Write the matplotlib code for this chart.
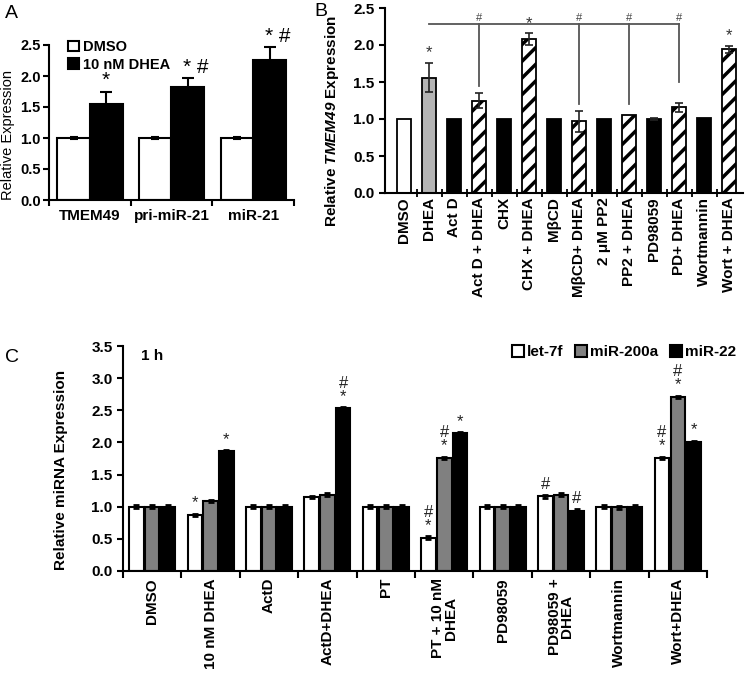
import matplotlib
matplotlib.use('Agg')
import matplotlib.pyplot as plt
import numpy as np

plt.rcParams['font.family'] = ['Liberation Sans', 'DejaVu Sans']
plt.rcParams['mathtext.fontset'] = 'custom'
plt.rcParams['mathtext.bfit'] = 'Liberation Sans:italic:bold'
plt.rcParams['mathtext.bf'] = 'Liberation Sans:bold'
plt.rcParams['mathtext.rm'] = 'Liberation Sans'
plt.rcParams['hatch.linewidth'] = 2.5

# ---------------- Panel A data ----------------
a_cats = ['TMEM49', 'pri-miR-21', 'miR-21']
a_dmso = [1.0, 1.0, 1.0]
a_dmso_err = [0.02, 0.02, 0.02]
a_dhea = [1.55, 1.83, 2.26]
a_dhea_err = [0.2, 0.13, 0.2]
a_marks = ['*', '* #', '* #']

# ---------------- Panel B data ----------------
b_cats = ['DMSO', 'DHEA', 'Act D', 'Act D + DHEA', 'CHX', 'CHX + DHEA', 'MβCD',
          'MβCD+ DHEA', '2 μM PP2', 'PP2 + DHEA', 'PD98059', 'PD+ DHEA',
          'Wortmannin', 'Wort + DHEA']
b_vals = [1.0, 1.56, 1.0, 1.25, 1.0, 2.08, 1.0, 0.97, 1.0, 1.06, 1.0, 1.16, 1.01, 1.94]
b_err = [0.0, 0.2, 0.0, 0.1, 0.0, 0.08, 0.0, 0.14, 0.0, 0.0, 0.02, 0.06, 0.0, 0.05]
b_style = ['white', 'gray', 'black', 'hatch', 'black', 'hatch', 'black', 'hatch',
           'black', 'hatch', 'black', 'hatch', 'black', 'hatch']
b_star = [1, 5, 13]
b_hash_targets = [3, 7, 9, 11]
b_hash_drop = [1.45, 1.2, 1.2, 1.5]

# ---------------- Panel C data ----------------
c_cats = ['DMSO', '10 nM DHEA', 'ActD', 'ActD+DHEA', 'PT', 'PT + 10 nM\nDHEA',
          'PD98059', 'PD98059 +\nDHEA', 'Wortmannin', 'Wort+DHEA']
c_series = ['let-7f', 'miR-200a', 'miR-22']
c_let7f = [1.0, 0.87, 1.0, 1.15, 1.0, 0.52, 1.0, 1.16, 1.0, 1.76]
c_mir200a = [1.0, 1.09, 1.0, 1.19, 1.0, 1.76, 1.0, 1.19, 0.99, 2.71]
c_mir22 = [1.0, 1.86, 1.0, 2.53, 1.0, 2.14, 1.0, 0.94, 1.0, 2.01]
c_err = 0.02
# annotations: (group, series index, text)
c_marks = [(1, 0, '*'), (1, 2, '*'), (3, 2, '#\n*'), (5, 0, '#\n*'), (5, 1, '#\n*'),
           (5, 2, '*'), (7, 0, '#'), (7, 2, '#'), (9, 0, '#\n*'), (9, 1, '#\n*'), (9, 2, '*')]

W, H = 745, 675
fig = plt.figure(figsize=(W / 100, H / 100), dpi=100)


def ax_px(l, t, r, b):
    return fig.add_axes([l / W, 1 - b / H, (r - l) / W, (b - t) / H])


def style_axes(ax):
    for s in ['top', 'right']:
        ax.spines[s].set_visible(False)
    for s in ['left', 'bottom']:
        ax.spines[s].set_linewidth(1.5)
    ax.tick_params(axis='y', direction='out', width=1.5, length=4)


# ================= Panel A =================
axA = ax_px(49, 45, 294, 200)
style_axes(axA)
xA = np.arange(len(a_cats))
axA.bar(xA - 0.2, a_dmso, 0.4, color='white', edgecolor='black', linewidth=1.5,
        yerr=a_dmso_err, error_kw=dict(ecolor='black', elinewidth=1.5, capsize=3, capthick=1.5),
        label='DMSO')
axA.bar(xA + 0.2, a_dhea, 0.4, color='black', edgecolor='black', linewidth=1.5,
        yerr=a_dhea_err, error_kw=dict(ecolor='black', elinewidth=1.5, capsize=4, capthick=1.5),
        label='10 nM DHEA')
for i in range(len(a_cats)):
    shift = 0.1 if len(a_marks[i]) > 1 else 0.0
    axA.text(xA[i] + 0.2 + shift, a_dhea[i] + a_dhea_err[i] + 0.02, a_marks[i], ha='center',
             va='bottom', fontsize=15, clip_on=False)
axA.set_xlim(-0.5, 2.5)
axA.set_ylim(0, 2.5)
axA.set_yticks(np.arange(0, 2.51, 0.5))
axA.set_yticklabels([f'{v:.1f}' for v in np.arange(0, 2.51, 0.5)], fontsize=10.5, fontweight='bold')
axA.tick_params(axis='y', pad=2)
axA.set_xticks([-0.5, 0.5, 1.5, 2.5])
axA.set_xticklabels([])
axA.tick_params(axis='x', direction='out', width=1.5, length=4)
for i, c in enumerate(a_cats):
    axA.text(xA[i], -0.15, c, ha='center', va='top', fontsize=11, fontweight='bold',
             transform=axA.transData)
axA.set_ylabel('Relative Expression', fontsize=10.5)
axA.yaxis.set_label_coords(-0.138, 0.42)
leg = axA.legend(loc='upper left', bbox_to_anchor=(0.055, 1.07), frameon=False, fontsize=10.5,
                 handlelength=0.75, handleheight=0.75, handletextpad=0.25, labelspacing=0.25,
                 borderaxespad=0)
for t in leg.get_texts():
    t.set_fontweight('bold')
fig.text(5 / W, 1 - 14 / H, 'A', fontsize=14, va='center', ha='left')

# ================= Panel B =================
axB = ax_px(385, 8, 743, 193)
style_axes(axB)
xB = np.arange(len(b_cats))
colors = {'white': 'white', 'gray': '#b4b4b4', 'black': 'black', 'hatch': 'white'}
for i in range(len(b_cats)):
    st = b_style[i]
    axB.bar(xB[i], b_vals[i], 0.58, color=colors[st], edgecolor='black', linewidth=1.3,
            hatch='//' if st == 'hatch' else None)
    if b_err[i] > 0:
        axB.errorbar(xB[i], b_vals[i], yerr=b_err[i], ecolor='#222222', elinewidth=1.2,
                     capsize=3, capthick=1.2, fmt='none')
for i in b_star:
    axB.text(xB[i], b_vals[i] + b_err[i] + 0.03, '*', ha='center', va='bottom', fontsize=12,
             color='#333333')
# bracket
yb = 2.28
axB.plot([xB[1], xB[11]], [yb, yb], color='#555555', lw=1.3)
for t, d in zip(b_hash_targets, b_hash_drop):
    axB.plot([xB[t], xB[t]], [yb, d], color='#555555', lw=1.3)
    axB.text(xB[t], yb + 0.02, '#', ha='center', va='bottom', fontsize=8, color='#444444')
axB.set_xlim(-0.76, 13.56)
axB.set_ylim(0, 2.5)
axB.set_yticks(np.arange(0, 2.51, 0.5))
axB.set_yticklabels([f'{v:.1f}' for v in np.arange(0, 2.51, 0.5)], fontsize=11, fontweight='bold')
axB.set_xticks(xB)
axB.set_xticklabels(b_cats, rotation=90, fontsize=11, fontweight='bold')
axB.tick_params(axis='x', length=0, pad=3)
axB.set_xticks(xB[:-1] + 0.5, minor=True)
axB.tick_params(axis='x', which='minor', direction='inout', length=6, width=1.3)
axB.set_ylabel(r'Relative $\mathbfit{TMEM49}$ Expression', fontsize=11, fontweight='bold')
axB.yaxis.set_label_coords(-0.122, 0.39)
fig.text(314 / W, 1 - 11 / H, 'B', fontsize=14, va='center', ha='left')

# ================= Panel C =================
axC = ax_px(123, 346, 707, 571)
style_axes(axC)
xC = np.arange(len(c_cats))
offs = [-0.27, 0.0, 0.27]
bw = 0.25
c_data = [c_let7f, c_mir200a, c_mir22]
c_cols = ['white', '#808080', 'black']
for s in range(3):
    axC.bar(xC + offs[s], c_data[s], bw, color=c_cols[s], edgecolor='black', linewidth=1.5,
            yerr=c_err, error_kw=dict(ecolor='black', elinewidth=1.5, capsize=2.5, capthick=2),
            label=c_series[s])
for g, s, txt in c_marks:
    axC.text(xC[g] + offs[s], c_data[s][g] + c_err + 0.05, txt, ha='center', va='bottom',
             fontsize=12, linespacing=0.85, color='#222222')
axC.set_xlim(-0.5, 9.5)
axC.set_ylim(0, 3.5)
axC.set_yticks(np.arange(0, 3.51, 0.5))
axC.set_yticklabels([f'{v:.1f}' for v in np.arange(0, 3.51, 0.5)], fontsize=11, fontweight='bold')
axC.set_xticks(xC)
axC.set_xticklabels(c_cats, rotation=90, fontsize=11, fontweight='bold', linespacing=0.9)
axC.tick_params(axis='x', length=0, pad=5)
axC.set_xticks(np.arange(-0.5, 9.6, 1.0), minor=True)
axC.tick_params(axis='x', which='minor', direction='out', length=5, width=1.5)
axC.set_ylabel('Relative miRNA Expression', fontsize=11, fontweight='bold')
axC.yaxis.set_label_coords(-0.095, 0.45)
axC.text(0.03, 0.985, '1 h', transform=axC.transAxes, fontsize=11, fontweight='bold', va='top')
legC = axC.legend(loc='upper right', bbox_to_anchor=(1.06, 1.03), ncol=3, frameon=False,
                  fontsize=11, handlelength=0.75, handleheight=0.75, handletextpad=0.2,
                  columnspacing=0.8, borderaxespad=0)
for t in legC.get_texts():
    t.set_fontweight('bold')
fig.text(5 / W, 1 - 357 / H, 'C', fontsize=14, va='center', ha='left')

fig.savefig('out.png', dpi=100)
